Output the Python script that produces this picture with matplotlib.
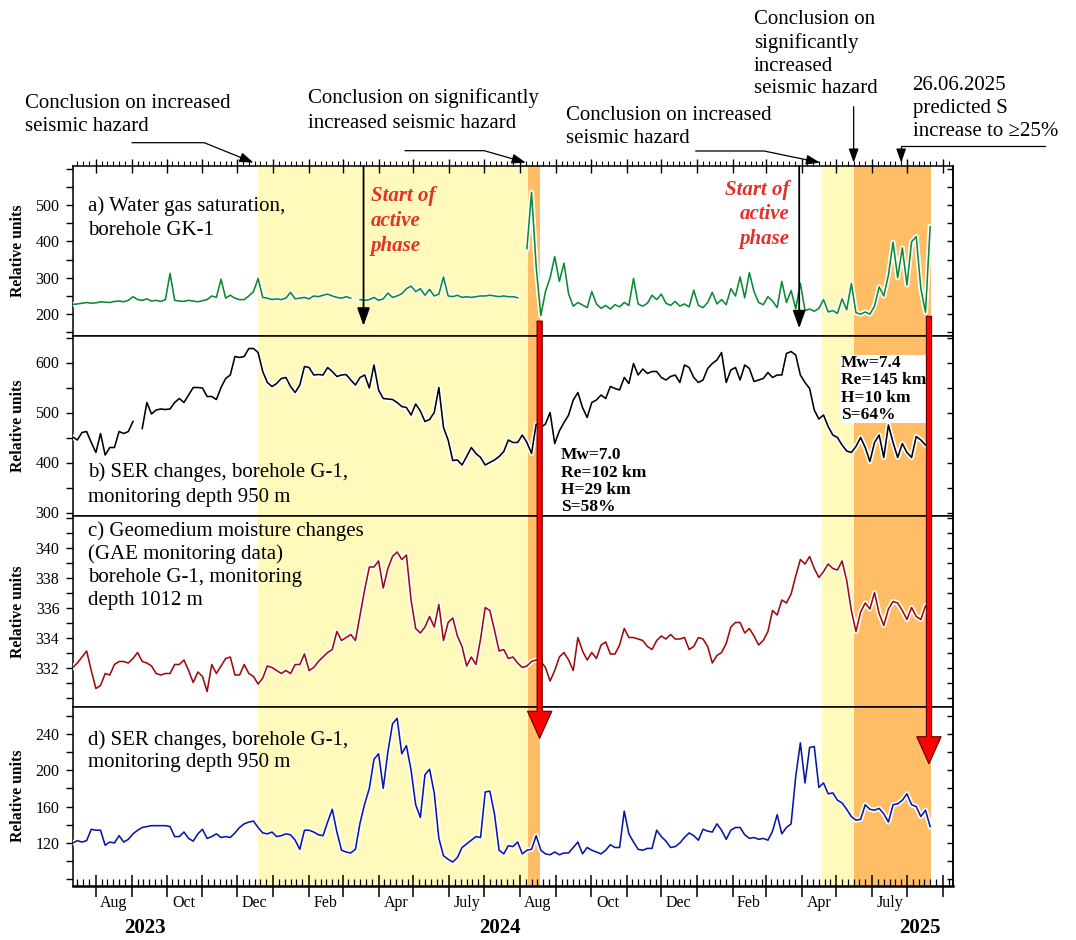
import numpy as np
import pandas as pd
import matplotlib
matplotlib.use("Agg")
import matplotlib.pyplot as plt
import matplotlib.dates as mdates
import matplotlib.ticker as mticker
import matplotlib.patheffects as pe
from matplotlib.patches import ConnectionPatch

plt.rcParams['font.family'] = ['Liberation Serif', 'DejaVu Serif']

# ---------------- data ----------------
series_start = "2023-07-12"
step = "4D"
nan = np.nan

gas_gk1 = [
    227, 228, 230, 232, 230, 231, 234, 233, 232, 235,
    236, 234, 238, 248, 240, 238, 242, 236, 238, 235,
    240, 312, 238, 236, 235, 238, 236, 234, 237, 240,
    250, 246, 296, 244, 252, 244, 240, 240, 250, 262,
    298, 246, 244, 240, 242, 240, 244, 260, 242, 244,
    246, 242, 250, 248, 252, 255, 250, 246, 244, 248,
    244, nan, 240, 238, 240, 246, 238, 242, 258, 246,
    250, 256, 270, 277, 262, 270, 252, 268, 250, 255,
    302, 250, 248, 252, 246, 248, 246, 248, 250, 250,
    252, 250, 248, 250, 248, 248, 245, nan, 380, 535,
    330, 196, 262, 300, 358, 290, 340, 255, 222, 232,
    225, 218, 262, 228, 216, 224, 214, 226, 220, 232,
    224, 298, 228, 222, 230, 252, 240, 255, 230, 224,
    235, 222, 228, 220, 266, 224, 218, 232, 260, 228,
    240, 226, 270, 250, 302, 245, 314, 262, 232, 226,
    248, 236, 218, 290, 232, 265, 215, 285, 210, 214,
    208, 216, 240, 206, 210, 202, 242, 212, 284, 204,
    200, 206, 200, 222, 275, 250, 307, 398, 300, 382,
    280, 399, 413, 270, 205, 440,
]

ser_950_b = [
    451, 445, 460, 462, 440, 420, 458, 415, 430, 430,
    462, 458, 462, 482, nan, 468, 520, 497, 505, 507,
    506, 507, 520, 528, 520, 535, 550, 550, 549, 532,
    532, 526, 550, 568, 575, 612, 610, 612, 628, 628,
    620, 582, 560, 552, 558, 568, 570, 552, 540, 555,
    592, 590, 575, 576, 575, 590, 582, 572, 575, 576,
    565, 555, 570, 575, 549, 595, 545, 528, 527, 526,
    520, 512, 510, 495, 517, 503, 482, 486, 500, 550,
    470, 445, 404, 405, 395, 412, 430, 418, 410, 395,
    400, 405, 412, 422, 445, 440, 440, 455, 440, 418,
    477, 470, 477, 500, 438, 463, 480, 495, 525, 540,
    510, 490, 520, 525, 535, 528, 552, 548, 545, 570,
    558, 598, 575, 587, 578, 582, 582, 570, 565, 572,
    575, 560, 595, 590, 570, 560, 565, 588, 598, 605,
    620, 560, 585, 590, 565, 595, 588, 562, 565, 568,
    580, 570, 575, 575, 618, 622, 615, 575, 560, 548,
    505, 487, 495, 472, 455, 450, 435, 423, 420, 432,
    450, 430, 402, 440, 455, 410, 475, 440, 410, 438,
    420, 410, 452, 445, 435,
]

moisture_1012 = [
    332.0, 332.3, 332.7, 333.1, 331.8, 330.6, 330.8, 331.6, 331.5, 332.2,
    332.4, 332.4, 332.3, 332.6, 333.0, 332.4, 332.3, 332.1, 331.6, 331.5,
    331.6, 331.6, 332.2, 332.2, 332.5, 331.8, 331.0, 331.7, 331.4, 330.4,
    332.2, 331.6, 332.1, 332.6, 332.7, 331.5, 331.5, 332.2, 331.6, 331.4,
    330.9, 331.3, 332.1, 332.0, 331.8, 331.6, 331.8, 331.6, 332.2, 332.2,
    332.9, 331.8, 332.0, 332.4, 332.7, 333.0, 333.2, 334.4, 333.8, 334.0,
    334.2, 333.8, 335.5, 337.2, 338.7, 338.7, 339.1, 337.3, 338.6, 339.4,
    339.7, 339.2, 339.5, 336.5, 334.6, 334.3, 334.7, 335.4, 334.7, 336.2,
    333.8, 335.0, 335.3, 334.1, 333.4, 332.1, 332.7, 332.2, 333.9, 336.0,
    335.8, 334.5, 333.1, 333.2, 332.6, 332.7, 332.3, 332.0, 332.1, 332.4,
    332.5, 332.4, 332.0, 331.1, 331.8, 332.7, 333.0, 332.5, 331.8, 334.0,
    333.1, 332.5, 333.0, 332.6, 333.5, 333.7, 332.9, 332.9, 333.5, 334.6,
    334.0, 334.0, 333.9, 333.8, 333.4, 333.2, 333.8, 334.1, 333.9, 334.2,
    333.9, 333.9, 334.0, 333.2, 333.4, 334.0, 333.9, 333.4, 332.3, 332.8,
    333.0, 333.6, 334.7, 335.0, 335.0, 334.3, 334.6, 334.1, 333.5, 333.8,
    334.4, 335.8, 335.5, 336.5, 336.3, 336.9, 338.1, 339.2, 338.9, 339.4,
    338.6, 338.0, 338.4, 338.9, 338.6, 338.5, 339.1, 337.8, 335.8, 334.4,
    335.7, 336.3, 335.9, 337.0, 335.6, 334.8, 335.9, 336.4, 336.3, 335.8,
    335.2, 336.0, 335.4, 335.2, 336.1,
]

ser_950_d = [
    120, 122.5, 121, 122.5, 135, 134, 134, 117.5, 121, 120,
    128, 121, 124, 130, 134, 137, 138, 139, 139, 139,
    139, 138, 127, 127, 132, 125, 122, 130, 135, 125,
    127, 130, 126, 127, 126, 131, 137, 141, 143, 144,
    137, 131, 130, 132, 127, 128, 130, 129, 123, 113,
    134, 134, 132, 129, 128, 143, 157, 132, 112, 110,
    109, 113, 142, 163, 180, 212, 218, 180, 220, 251,
    257, 218, 227, 200, 162, 148, 195, 201, 175, 125,
    106, 102, 99, 104, 115, 119, 123, 127, 126, 176,
    177, 152, 112, 108, 117, 116, 121, 108, 112, 113,
    128, 112, 108, 107, 110, 107, 109, 109, 115, 121,
    108, 115, 112, 110, 108, 112, 118, 115, 115, 155,
    130, 121, 113, 112, 114, 114, 134, 127, 122, 115,
    116, 120, 126, 131, 128, 123, 135, 133, 132, 141,
    134, 124, 134, 137, 137, 129, 125, 126, 124, 125,
    123, 133, 151, 130, 137, 141, 193, 230, 186, 225,
    226, 181, 186, 174, 175, 167, 164, 157, 149, 145,
    146, 162, 157, 156, 158, 152, 143, 162, 163, 167,
    174, 162, 160, 149, 156, 138,
]

# shaded periods: (start, end, kind)
periods = [("2023-12-19", "2024-08-08", "yellow"),
           ("2024-08-08", "2024-08-18", "orange"),
           ("2025-04-19", "2025-05-16", "yellow"),
           ("2025-05-16", "2025-07-22", "orange")]

month_labels = ["Aug", "Oct", "Dec", "Feb", "Apr", "July",
                "Aug", "Oct", "Dec", "Feb", "Apr", "July"]
month_label_dates = ["2023-08-16", "2023-10-16", "2023-12-16", "2024-02-15",
                     "2024-04-16", "2024-06-16", "2024-08-16", "2024-10-16",
                     "2024-12-16", "2025-02-14", "2025-04-16", "2025-06-16"]
year_labels = ["2023", "2024", "2025"]
year_label_dates = ["2023-09-12", "2024-07-15", "2025-07-12"]

active_phase_dates = ["2024-03-19", "2025-03-30"]
active_phase_tips = [168, 161]
quake_dates = ["2024-08-18", "2025-07-20"]
quake_arrow_top = [181, 194]     # panel a values
quake_arrow_tip = [235, 207]     # panel d values

# ---------------- figure ----------------
W, H = 1076, 940
fig = plt.figure(figsize=(W / 100, H / 100), dpi=100)
left_px, right_px = 73.3, 953.3
bounds = [166, 336, 516, 706.5, 885.7]
xlim = (mdates.date2num(pd.Timestamp("2023-07-12 12:00")),
        mdates.date2num(pd.Timestamp("2025-08-10")))

YELLOW = "#FFFABB"
ORANGE = "#FFBD66"
halo = [pe.Stroke(linewidth=3.6, foreground="white"), pe.Normal()]

panel_cfg = [
    (gas_gk1, "#0B8A34", (140, 607), [200, 300, 400, 500], 50,
     "a) Water gas saturation,\nborehole GK-1", 0.695, 1.37),
    (ser_950_b, "#000000", (293, 653), [300, 400, 500, 600], 50,
     "b) SER changes, borehole G-1,\nmonitoring depth 950 m", 0.175, 1.42),
    (moisture_1012, "#9E0B0B", (329.4, 342.1), [332, 334, 336, 338, 340], 1,
     "c) Geomedium moisture changes\n(GAE monitoring data)\nborehole G-1, monitoring\ndepth 1012 m", 0.741, 1.27),
    (ser_950_d, "#0A16A2", (73, 270), [120, 160, 200, 240], 20,
     "d) SER changes, borehole G-1,\nmonitoring depth 950 m", 0.753, 1.2),
]

axes = []
for k, (vals, col, ylim, majors, minor, label, ly, lsp) in enumerate(panel_cfg):
    top, bot = bounds[k], bounds[k + 1]
    ax = fig.add_axes([left_px / W, 1 - bot / H, (right_px - left_px) / W, (bot - top) / H])
    axes.append(ax)
    dates = pd.date_range(series_start, periods=len(vals), freq=step)
    for s, e, kind in periods:
        ax.axvspan(pd.Timestamp(s), pd.Timestamp(e), color=YELLOW if kind == "yellow" else ORANGE,
                   lw=0, zorder=0)
    ax.plot(dates, np.array(vals, dtype=float), color=col, lw=1.15, path_effects=halo, zorder=3)
    ax.set_xlim(*xlim)
    ax.set_ylim(*ylim)
    ax.yaxis.set_major_locator(mticker.FixedLocator(majors))
    ax.yaxis.set_minor_locator(mticker.MultipleLocator(minor))
    ax.yaxis.set_major_formatter(mticker.FormatStrFormatter("%d"))
    ax.tick_params(axis="y", which="both", direction="out", length=5, width=1.0,
                   left=True, right=False, labelsize=11.5, pad=5)
    sec = ax.secondary_yaxis("right")
    sec.yaxis.set_major_locator(mticker.MultipleLocator(minor))
    sec.tick_params(axis="y", which="major", direction="in", length=4, width=1.0, labelright=False)
    sec.spines["right"].set_linewidth(1.1)
    for sp in ax.spines.values():
        sp.set_linewidth(1.1)
    ax.set_ylabel("Relative units", fontsize=11.3, fontweight="bold")
    ax.yaxis.set_label_coords(-0.054, 0.5)
    ax.text(0.0165, ly, label, transform=ax.transAxes, ha="left", va="center",
            fontsize=15, linespacing=lsp, zorder=6)
    ax.xaxis.set_major_locator(mdates.MonthLocator())
    ax.xaxis.set_minor_locator(mdates.DayLocator(bymonthday=[6, 11, 16, 21, 26]))
    ax.xaxis.set_major_formatter(mticker.NullFormatter())
    ax.tick_params(axis="x", which="both", bottom=False, top=False, labelbottom=False)

ax_a, ax_b, ax_c, ax_d = axes

# top ticks on panel a
ax_a.tick_params(axis="x", which="major", top=True, direction="inout", length=10, width=1.0)
ax_a.tick_params(axis="x", which="minor", top=True, direction="out", length=3.5, width=0.8)
# bottom ticks on panel d
ax_d.tick_params(axis="x", which="major", bottom=True, direction="inout", length=16, width=1.1)
ax_d.tick_params(axis="x", which="minor", bottom=True, direction="in", length=5, width=0.9)
ax_d.spines["bottom"].set_linewidth(1.8)

for lab, d in zip(month_labels, month_label_dates):
    ax_d.text(mdates.date2num(pd.Timestamp(d)), -0.098, lab, transform=ax_d.get_xaxis_transform(),
              ha="center", va="center", fontsize=11.5)
for lab, d in zip(year_labels, year_label_dates):
    ax_d.text(mdates.date2num(pd.Timestamp(d)), -0.238, lab, transform=ax_d.get_xaxis_transform(),
              ha="center", va="center", fontsize=15, fontweight="bold")

# ---------------- "Start of active phase" ----------------
for d, tip in zip(active_phase_dates, active_phase_tips):
    x = mdates.date2num(pd.Timestamp(d))
    ax_a.annotate("", xy=(x, tip), xycoords="data", xytext=(x, 1.0),
                  textcoords=("data", "axes fraction"),
                  arrowprops=dict(arrowstyle="-|>,head_length=0.9,head_width=0.32", mutation_scale=12,
                                  color="black", lw=1.3, shrinkA=0, shrinkB=0), zorder=7)
red_txt = "#E2302B"
ax_a.text(0.338, 0.675, "Start of\nactive\nphase", transform=ax_a.transAxes, ha="left", va="center",
          color=red_txt, fontsize=15, fontweight="bold", fontstyle="italic", linespacing=1.34, zorder=6)
ax_a.text(0.814, 0.716, "Start of\nactive\nphase", transform=ax_a.transAxes, ha="right", va="center",
          multialignment="right", color=red_txt, fontsize=15, fontweight="bold", fontstyle="italic",
          linespacing=1.29, zorder=6)

# ---------------- earthquake boxes ----------------
ax_b.text(0.554, 0.193, "Mw=7.0\nRe=102 km\nH=29 km\nS=58%", transform=ax_b.transAxes,
          ha="left", va="center", fontsize=12.5, fontweight="bold", linespacing=1.1, zorder=8)
ax_b.text(0.872, 0.706, "Mw=7.4\nRe=145 km\nH=10 km\nS=64%", transform=ax_b.transAxes,
          ha="left", va="center", fontsize=12.5, fontweight="bold", linespacing=1.1, zorder=8,
          bbox=dict(fc="white", ec="none", pad=0.2))

# ---------------- top annotations ----------------
def fx(px):
    return px / W


def fy(py):
    return 1 - py / H


ann_kw = dict(arrowstyle="-|>,head_length=0.7,head_width=0.25", mutation_scale=12,
              color="black", lw=0.9, shrinkA=0, shrinkB=0)

top_notes = [
    ("Conclusion on increased\nseismic hazard", 25, 115, "2023-12-15", (132, 142.7), 158, 1.35),
    ("Conclusion on significantly\nincreased seismic hazard", 308, 110.5, "2024-08-06", (405, 150.7), 164, 1.37),
    ("Conclusion on increased\nseismic hazard", 565.6, 127, "2025-04-17", (695.6, 151), 168.3, 1.25),
]
for txt, tx, ty, d, (ax0, ay0), angB, lsp in top_notes:
    fig.text(fx(tx), fy(ty), txt, ha="left", va="center", fontsize=15, linespacing=lsp)
    ax_a.annotate("", xy=(mdates.date2num(pd.Timestamp(d)), 1.02), xycoords=("data", "axes fraction"),
                  xytext=(fx(ax0), fy(ay0)), textcoords="figure fraction", annotation_clip=False,
                  arrowprops=dict(connectionstyle=f"angle,angleA=0,angleB={angB},rad=0", **ann_kw))

fig.text(fx(753.7), fy(54), "Conclusion on\nsignificantly\nincreased\nseismic hazard", ha="left",
         va="center", fontsize=15, linespacing=1.28)
x4 = mdates.date2num(pd.Timestamp("2025-05-16"))
ax_a.annotate("", xy=(x4, 1.02), xycoords=("data", "axes fraction"),
              xytext=(x4, fy(106.7)), textcoords=("data", "figure fraction"), annotation_clip=False,
              arrowprops=ann_kw)

fig.text(fx(912.6), fy(108.6), "26.06.2025\npredicted S\nincrease to \u226525%", ha="left",
         va="center", fontsize=15, linespacing=1.3)
x5 = mdates.date2num(pd.Timestamp("2025-06-26"))
ax_a.annotate("", xy=(x5, 1.02), xycoords=("data", "axes fraction"),
              xytext=(fx(1045), fy(145.7)), textcoords="figure fraction", annotation_clip=False,
              arrowprops=dict(connectionstyle="angle,angleA=0,angleB=90,rad=0", **ann_kw))

# ---------------- red arrows across panels ----------------
for d, ytop, ytip in zip(quake_dates, quake_arrow_top, quake_arrow_tip):
    x = mdates.date2num(pd.Timestamp(d))
    cp = ConnectionPatch(xyA=(x, ytop), coordsA=ax_a.transData, xyB=(x, ytip), coordsB=ax_d.transData,
                         arrowstyle="simple,head_length=1.95,head_width=1.75,tail_width=0.37",
                         mutation_scale=10, fc="#FF0000", ec="#5A0000", lw=0.8,
                         shrinkA=0, shrinkB=0, zorder=20)
    fig.add_artist(cp)

fig.savefig("out.png", dpi=100)
